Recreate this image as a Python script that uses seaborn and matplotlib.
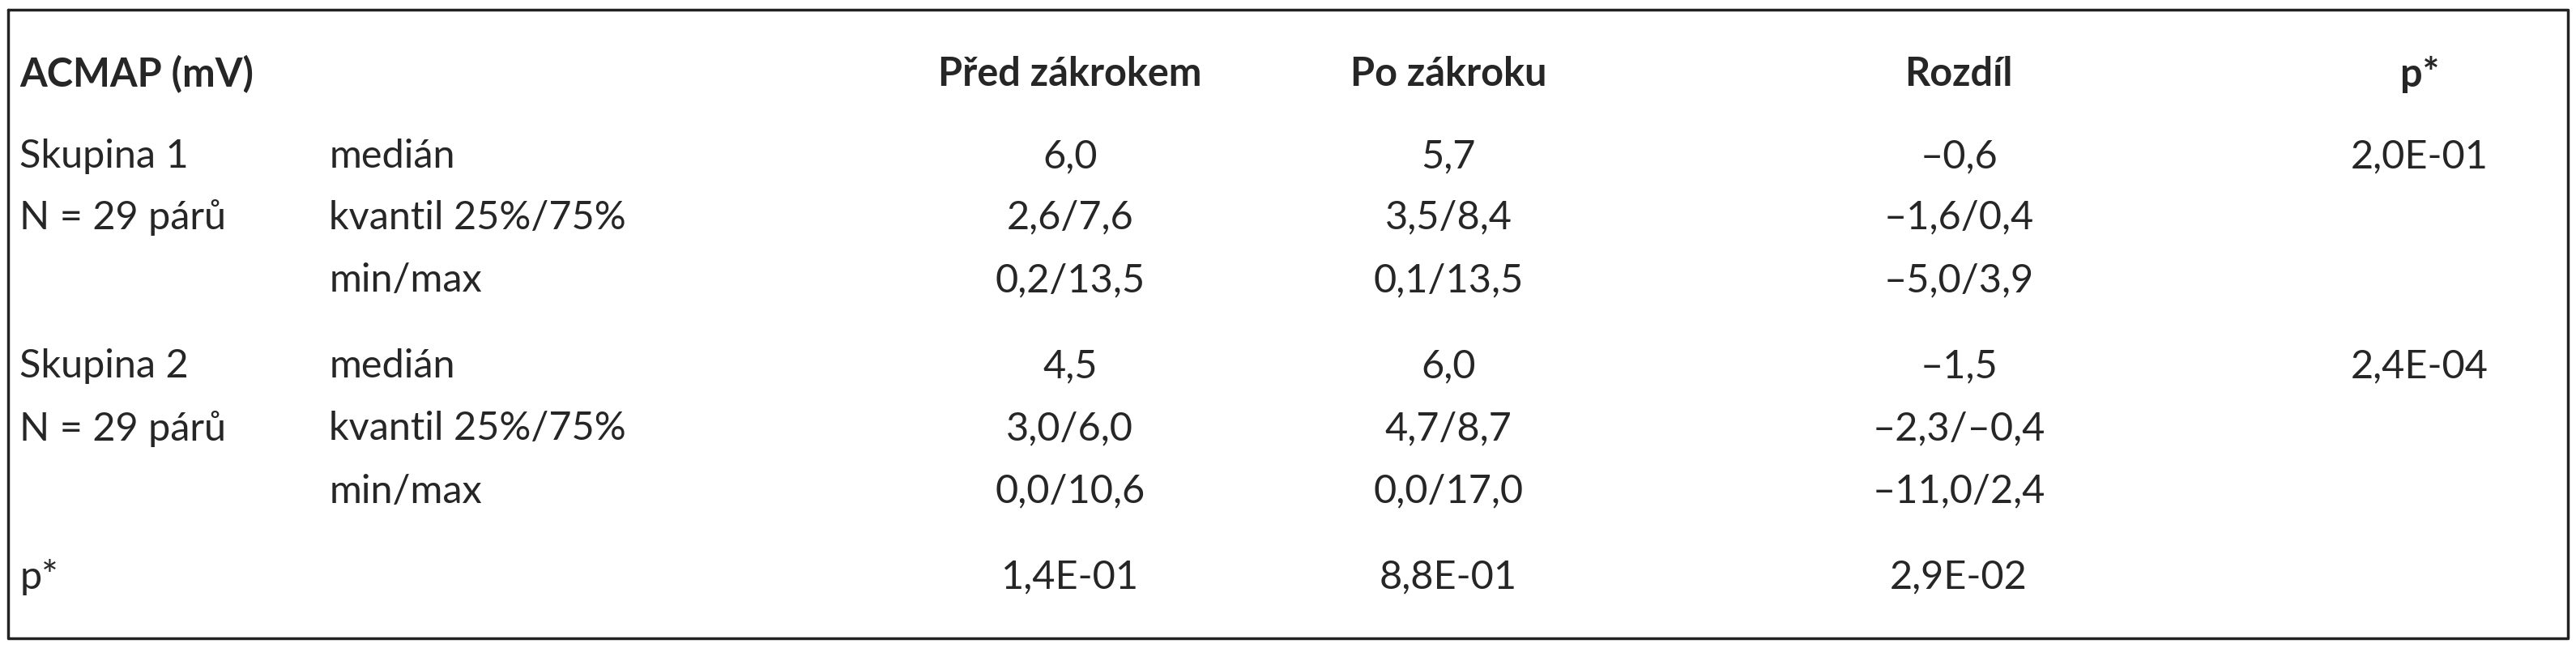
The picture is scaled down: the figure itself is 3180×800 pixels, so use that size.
import matplotlib
matplotlib.use("Agg")
import matplotlib.pyplot as plt
import seaborn as sns

sns.set_theme(style="white")
plt.rcParams['font.family'] = ['Lato', 'DejaVu Sans']

headers = ["ACMAP (mV)", "Před zákrokem", "Po zákroku", "Rozdíl", "p*"]
groups = ["Skupina 1", "Skupina 2"]
group_n = ["N = 29 párů", "N = 29 párů"]
stats = ["medián", "kvantil 25%/75%", "min/max"]
pred = [["6,0", "2,6/7,6", "0,2/13,5"], ["4,5", "3,0/6,0", "0,0/10,6"]]
po = [["5,7", "3,5/8,4", "0,1/13,5"], ["6,0", "4,7/8,7", "0,0/17,0"]]
rozdil = [["–0,6", "–1,6/0,4", "–5,0/3,9"], ["–1,5", "–2,3/–0,4", "–11,0/2,4"]]
p_group = ["2,0E-01", "2,4E-04"]
p_row = ["1,4E-01", "8,8E-01", "2,9E-02"]

W, H = 1565, 393
fig = plt.figure(figsize=(31.8, 8), dpi=100)
ax = fig.add_axes([0, 0, 1, 1])
ax.set_xlim(0, W); ax.set_ylim(H, 0); ax.axis("off")

fs = 35
col_x = [650, 880, 1190, 1470]
ax.plot([5, W-5, W-5, 5, 5], [6, 6, H-6, H-6, 6], color="#222222", lw=2.5)

ax.text(12, 45, headers[0], fontsize=fs, fontweight="bold", va="center", ha="left")
for x, h in zip(col_x, headers[1:]):
    ax.text(x, 45, h, fontsize=fs, fontweight="bold", va="center", ha="center")

row_y = [[95, 132, 170], [222, 260, 298]]
for g in range(2):
    ys = row_y[g]
    ax.text(12, ys[0], groups[g], fontsize=fs, va="center", ha="left")
    ax.text(12, ys[1], group_n[g], fontsize=fs, va="center", ha="left")
    for i in range(3):
        ax.text(200, ys[i], stats[i], fontsize=fs, va="center", ha="left")
        ax.text(col_x[0], ys[i], pred[g][i], fontsize=fs, va="center", ha="center")
        ax.text(col_x[1], ys[i], po[g][i], fontsize=fs, va="center", ha="center")
        ax.text(col_x[2], ys[i], rozdil[g][i], fontsize=fs, va="center", ha="center")
    ax.text(col_x[3], ys[0], p_group[g], fontsize=fs, va="center", ha="center")

ax.text(12, 350, "p*", fontsize=fs, va="center", ha="left")
for x, v in zip(col_x[:3], p_row):
    ax.text(x, 350, v, fontsize=fs, va="center", ha="center")

fig.savefig("out.png", dpi=100)
